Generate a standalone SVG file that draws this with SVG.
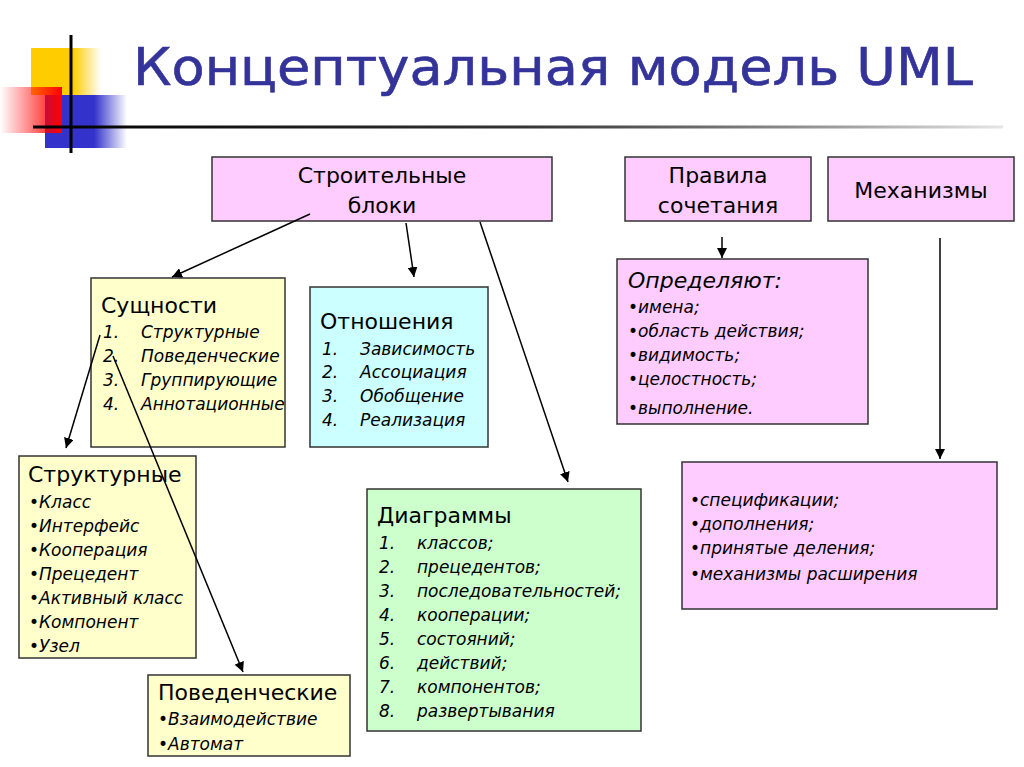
<svg xmlns="http://www.w3.org/2000/svg" width="1024" height="767" viewBox="0 0 1024 767">
<defs>
<linearGradient id="gY" x1="0" x2="1" y1="0" y2="0"><stop offset="0" stop-color="#ffcc00"/><stop offset="0.6" stop-color="#ffcc00"/><stop offset="1" stop-color="#ffcc00" stop-opacity="0"/></linearGradient>
<linearGradient id="gB" x1="0" x2="1" y1="0" y2="0"><stop offset="0" stop-color="#3333cc"/><stop offset="0.6" stop-color="#3333cc"/><stop offset="1" stop-color="#3333cc" stop-opacity="0"/></linearGradient>
<linearGradient id="gR" x1="0" x2="1" y1="0" y2="0"><stop offset="0" stop-color="#ff0000" stop-opacity="0"/><stop offset="1" stop-color="#ff0000"/></linearGradient>
<linearGradient id="gL" x1="0" x2="1" y1="0" y2="0"><stop offset="0" stop-color="#000"/><stop offset="0.5" stop-color="#333"/><stop offset="1" stop-color="#000" stop-opacity="0.1"/></linearGradient>
<marker id="ah" viewBox="0 0 10 10" refX="10" refY="5" markerWidth="10" markerHeight="10" markerUnits="userSpaceOnUse" orient="auto"><path d="M0,0 L10,5 L0,10 z" fill="#000"/></marker>
</defs>
<style>
.box{stroke:#333;stroke-width:1.5}
.pink{fill:#ffccff}.yel{fill:#ffffcc}.cyan{fill:#ccffff}.grn{fill:#ccffcc}
.h{font-family:"DejaVu Sans","Noto Sans",sans-serif;font-size:22px;fill:#000}
.i{font-family:"DejaVu Sans","Noto Sans",sans-serif;font-size:17px;font-style:italic;fill:#000}
.hi{font-family:"DejaVu Sans","Noto Sans",sans-serif;font-size:22px;font-style:italic;fill:#000}
.c{stroke:#000;stroke-width:1.5;fill:none;marker-end:url(#ah)}
</style>
<rect width="1024" height="767" fill="#fff"/>
<g id="decor">
<rect x="31" y="48" width="70" height="47" fill="url(#gY)"/>
<rect x="45" y="95" width="82" height="53" fill="url(#gB)"/>
<rect x="0" y="87" width="62" height="46" fill="url(#gR)"/>
<rect x="69.5" y="35" width="3" height="118" fill="#000"/>
<rect x="33" y="125.5" width="970" height="3" fill="url(#gL)"/>
</g>
<text id="title" x="133" y="85" font-family="DejaVu Sans,'Noto Sans',sans-serif" font-size="51" fill="#333399" stroke="#333399" stroke-width="0.6" textLength="840" lengthAdjust="spacingAndGlyphs">Концептуальная модель UML</text>
<g id="n-blocks">
<rect class="box pink" x="212" y="157" width="340" height="64"/>
<text class="h" x="382" y="183" text-anchor="middle">Строительные</text>
<text class="h" x="382" y="213" text-anchor="middle">блоки</text>
</g>
<g id="n-rules">
<rect class="box pink" x="625" y="157" width="186" height="64"/>
<text class="h" x="718" y="183" text-anchor="middle">Правила</text>
<text class="h" x="718" y="213" text-anchor="middle">сочетания</text>
</g>
<g id="n-mech">
<rect class="box pink" x="828" y="157" width="186" height="64"/>
<text class="h" x="921" y="198" text-anchor="middle">Механизмы</text>
</g>
<g id="n-entities">
<rect class="box yel" x="91" y="278" width="194" height="169"/>
<text class="h" x="101" y="313">Сущности</text>
<text class="i" x="103" y="338">1.</text><text class="i" x="141" y="338">Структурные</text>
<text class="i" x="103" y="362">2.</text><text class="i" x="141" y="362">Поведенческие</text>
<text class="i" x="103" y="386">3.</text><text class="i" x="141" y="386">Группирующие</text>
<text class="i" x="103" y="410">4.</text><text class="i" x="141" y="410">Аннотационные</text>
</g>
<g id="n-relations">
<rect class="box cyan" x="310" y="287" width="178" height="160"/>
<text class="h" x="320" y="329">Отношения</text>
<text class="i" x="322" y="355">1.</text><text class="i" x="360" y="355">Зависимость</text>
<text class="i" x="322" y="378">2.</text><text class="i" x="360" y="378">Ассоциация</text>
<text class="i" x="322" y="402">3.</text><text class="i" x="360" y="402">Обобщение</text>
<text class="i" x="322" y="426">4.</text><text class="i" x="360" y="426">Реализация</text>
</g>
<g id="n-structural">
<rect class="box yel" x="19" y="456" width="177" height="202"/>
<text class="h" x="28" y="482">Структурные</text>
<text class="i" x="29" y="508">•Класс</text>
<text class="i" x="29" y="532">•Интерфейс</text>
<text class="i" x="29" y="556">•Кооперация</text>
<text class="i" x="29" y="580">•Прецедент</text>
<text class="i" x="29" y="604">•Активный класс</text>
<text class="i" x="29" y="628">•Компонент</text>
<text class="i" x="29" y="652">•Узел</text>
</g>
<g id="n-behavioral">
<rect class="box yel" x="148" y="675" width="202" height="81"/>
<text class="h" x="158" y="700">Поведенческие</text>
<text class="i" x="158" y="725">•Взаимодействие</text>
<text class="i" x="158" y="750">•Автомат</text>
</g>
<g id="n-diagrams">
<rect class="box grn" x="367" y="489" width="274" height="242"/>
<text class="h" x="377" y="523">Диаграммы</text>
<text class="i" x="379" y="549">1.</text><text class="i" x="417" y="549">классов;</text>
<text class="i" x="379" y="573">2.</text><text class="i" x="417" y="573">прецедентов;</text>
<text class="i" x="379" y="597">3.</text><text class="i" x="417" y="597">последовательностей;</text>
<text class="i" x="379" y="621">4.</text><text class="i" x="417" y="621">кооперации;</text>
<text class="i" x="379" y="645">5.</text><text class="i" x="417" y="645">состояний;</text>
<text class="i" x="379" y="669">6.</text><text class="i" x="417" y="669">действий;</text>
<text class="i" x="379" y="693">7.</text><text class="i" x="417" y="693">компонентов;</text>
<text class="i" x="379" y="717">8.</text><text class="i" x="417" y="717">развертывания</text>
</g>
<g id="n-define">
<rect class="box pink" x="617" y="259" width="251" height="165"/>
<text class="hi" x="628" y="288">Определяют:</text>
<text class="i" x="628" y="313">•имена;</text>
<text class="i" x="628" y="337">•область действия;</text>
<text class="i" x="628" y="361">•видимость;</text>
<text class="i" x="628" y="385">•целостность;</text>
<text class="i" x="628" y="414">•выполнение.</text>
</g>
<g id="n-mechlist">
<rect class="box pink" x="682" y="462" width="315" height="147"/>
<text class="i" x="690" y="506">•спецификации;</text>
<text class="i" x="690" y="530">•дополнения;</text>
<text class="i" x="690" y="554">•принятые деления;</text>
<text class="i" x="690" y="580">•механизмы расширения</text>
</g>
<g id="connectors">
<line class="c" x1="310" y1="214" x2="172" y2="277"/>
<line class="c" x1="406" y1="223" x2="414" y2="277"/>
<line class="c" x1="480" y1="222" x2="568" y2="482"/>
<line class="c" x1="722" y1="237" x2="722" y2="258"/>
<line class="c" x1="940" y1="238" x2="940" y2="459"/>
<line class="c" x1="100" y1="335" x2="66" y2="448"/>
<line class="c" x1="113" y1="356" x2="243" y2="672"/>
</g>
</svg>
